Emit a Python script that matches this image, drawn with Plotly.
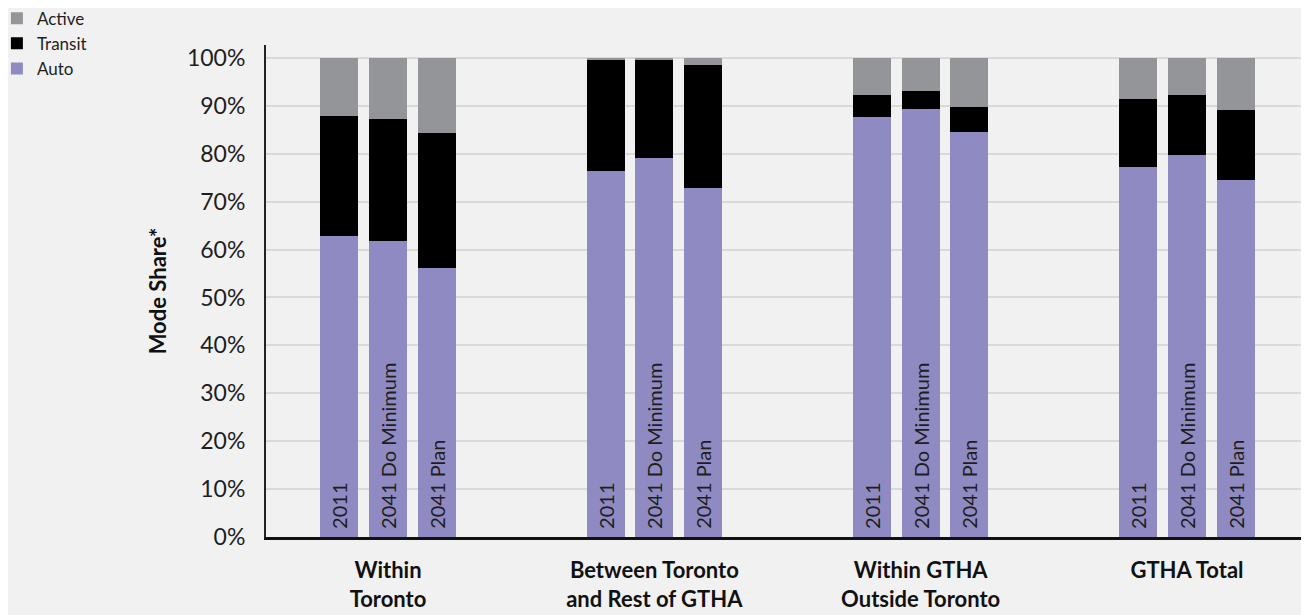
import plotly.graph_objects as go

# mode share (%) per bar, in order: group x scenario
groups = ["Within<br>Toronto", "Between Toronto<br>and Rest of GTHA",
          "Within GTHA<br>Outside Toronto", "GTHA Total"]
scenarios = ["2011", "2041 Do Minimum", "2041 Plan"]

auto = [62.9, 61.8, 56.2, 76.3, 79.2, 72.9, 87.6, 89.4, 84.6, 77.3, 79.8, 74.6]
transit = [24.9, 25.5, 28.2, 23.2, 20.3, 25.7, 4.6, 3.6, 5.1, 14.2, 12.4, 14.6]
active = [12.2, 12.7, 15.6, 0.5, 0.5, 1.4, 7.8, 7.0, 10.3, 8.5, 7.8, 10.8]

# bar layout (in group units)
step = 0.183
bar_w = 0.143

x = []
labels = []
for g in range(len(groups)):
    for s, name in enumerate(scenarios):
        x.append(g + (s - 1) * step)
        labels.append("\u00a0" + name)

font = "Lato, 'Open Sans', sans-serif"

fig = go.Figure()
fig.add_trace(go.Bar(
    x=x, y=auto, name="Auto", width=bar_w,
    marker=dict(color="#8f8bc2", line_width=0),
    text=labels, textposition="inside", insidetextanchor="start",
    textangle=-90, insidetextfont=dict(size=20, color="#1e1e1e", family=font),
    cliponaxis=False,
))
fig.add_trace(go.Bar(
    x=x, y=transit, name="Transit", width=bar_w,
    marker=dict(color="#000000", line_width=0),
))
fig.add_trace(go.Bar(
    x=x, y=active, name="Active", width=bar_w,
    marker=dict(color="#939598", line_width=0),
))

# page has an 8px body margin, so the figure is drawn 8px smaller
fig.update_layout(
    width=1301, height=607,
    barmode="stack",
    paper_bgcolor="#f1f1f1",
    plot_bgcolor="#f1f1f1",
    font=dict(family=font, size=20, color="#1e1e1e"),
    margin=dict(l=258, r=0, t=37, b=78, autoexpand=False),
    showlegend=True,
    legend=dict(
        traceorder="reversed",
        xref="paper", yref="paper",
        x=-0.258, y=1.09, xanchor="left", yanchor="top",
        font=dict(size=17),
        bgcolor="rgba(0,0,0,0)",
        tracegroupgap=0,
        itemwidth=30,
    ),
    xaxis=dict(
        range=[-0.458, 3.458],
        tickvals=list(range(len(groups))),
        ticktext=["<b>" + g + "</b>" for g in groups],
        tickfont=dict(size=22, color="#111111"),
        showgrid=False, zeroline=False,
        showline=True, linecolor="#111111", linewidth=2.5,
        ticks="", ticklabelstandoff=12,
    ),
    yaxis=dict(
        range=[0, 102.7],
        tickmode="linear", tick0=0, dtick=10,
        ticksuffix="%",
        tickfont=dict(size=23, color="#1e1e1e"),
        showgrid=True, gridcolor="#d9d9d9", gridwidth=1.5,
        zeroline=False,
        showline=True, linecolor="#222222", linewidth=2,
        ticks="", ticklabelstandoff=14,
        title=dict(text="<b>Mode Share*</b>", font=dict(size=22, color="#111111"),
                   standoff=14),
    ),
)

fig.write_html("out.html")
